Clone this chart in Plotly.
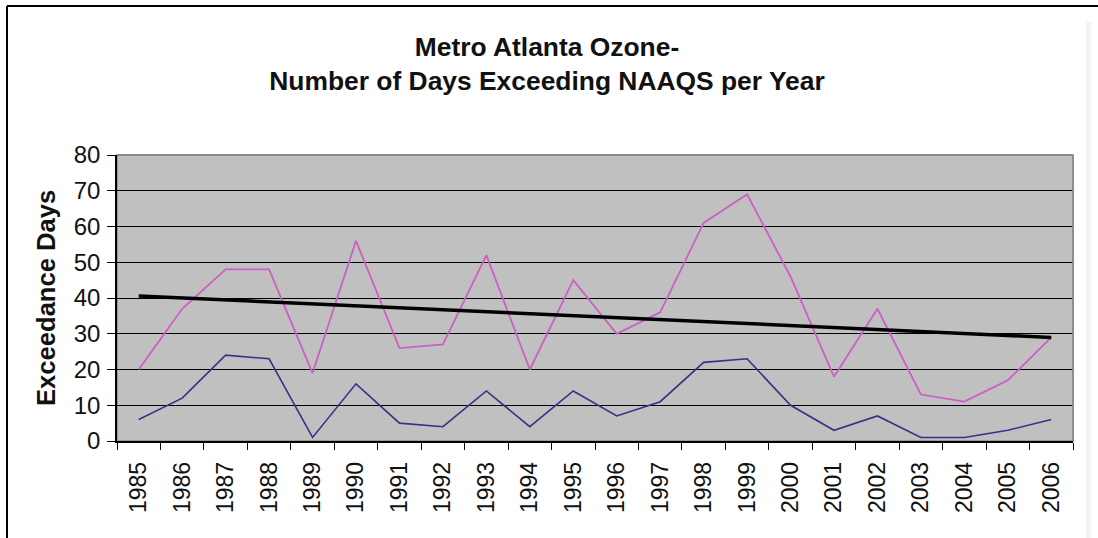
import numpy as np
import plotly.graph_objects as go

years = [str(y) for y in range(1985, 2007)]
days_8hr = [20, 37, 48, 48, 19, 56, 26, 27, 52, 20, 45, 30, 36, 61, 69, 46, 18, 37, 13, 11, 17, 29]
days_1hr = [6, 12, 24, 23, 1, 16, 5, 4, 14, 4, 14, 7, 11, 22, 23, 10, 3, 7, 1, 1, 3, 6]
y_ticks = [0, 10, 20, 30, 40, 50, 60, 70, 80]

# linear trend of the 8-hour exceedance counts
idx = np.arange(len(years))
slope, intercept = np.polyfit(idx, days_8hr, 1)
trend = slope * idx + intercept

W, H = 1098, 538
L, R, T, B = 117, 1073, 155, 441


def px(x):
    return (x - L) / (R - L)


def py(y):
    return (B - y) / (B - T)


fig = go.Figure()
fig.add_trace(go.Scatter(x=years, y=days_8hr, mode="lines",
                         line=dict(color="#CC5FC4", width=1.8), showlegend=False))
fig.add_trace(go.Scatter(x=years, y=days_1hr, mode="lines",
                         line=dict(color="#333388", width=1.6), showlegend=False))
fig.add_trace(go.Scatter(x=years, y=trend, mode="lines",
                         line=dict(color="#000000", width=3.5), showlegend=False))

fig.update_layout(
    width=W, height=H,
    margin=dict(l=L, r=W - R, t=T, b=H - B),
    paper_bgcolor="white",
    plot_bgcolor="#C0C0C0",
    font=dict(family="Liberation Sans, Arial, sans-serif", color="#111111"),
    title=dict(
        text="<b>Metro Atlanta Ozone-<br>Number of Days Exceeding NAAQS per Year</b>",
        x=547 / W, xanchor="center", xref="container",
        y=1 - 56 / H, yanchor="middle", yref="container",
        font=dict(size=26.4, color="#111111"),
    ),
    xaxis=dict(
        type="category", tickson="boundaries", ticks="outside", ticklen=7,
        tickcolor="#000000", tickwidth=1, showgrid=False,
        showline=True, linecolor="#000000", linewidth=1.5,
        tickangle=-90, tickfont=dict(size=23), ticklabelstandoff=10,
        range=[-0.5, len(years) - 0.5],
    ),
    yaxis=dict(
        range=[0, 80], tickvals=y_ticks, ticks="outside", ticklen=8,
        tickcolor="#000000", showgrid=True, gridcolor="#000000", gridwidth=1,
        zeroline=True, zerolinecolor="#000000", zerolinewidth=1.5,
        showline=True, linecolor="#000000", linewidth=1.5,
        tickfont=dict(size=24), ticklabelstandoff=2,
    ),
    annotations=[dict(
        text="<b>Exceedance Days</b>", textangle=-90,
        x=px(46), y=py(298), xref="paper", yref="paper",
        xanchor="center", yanchor="middle", showarrow=False,
        font=dict(size=25.6, color="#111111"),
    )],
    shapes=[
        # plot-area border
        dict(type="rect", xref="paper", yref="paper", x0=0, y0=0, x1=1, y1=1,
             line=dict(color="#8A8A8A", width=1.5), layer="below"),
        dict(type="line", xref="paper", yref="paper", x0=0, y0=1, x1=1, y1=1,
             line=dict(color="#8A8A8A", width=2)),
        dict(type="line", xref="paper", yref="paper", x0=1, y0=0, x1=1, y1=1,
             line=dict(color="#8A8A8A", width=1.5)),
        # outer frame
        dict(type="line", xref="paper", yref="paper", x0=px(7), y0=py(H + 2),
             x1=px(7), y1=py(6), line=dict(color="#000000", width=2)),
        dict(type="line", xref="paper", yref="paper", x0=px(7), y0=py(6),
             x1=px(W + 2), y1=py(6), line=dict(color="#000000", width=2)),
        # side strip at the right edge
        dict(type="rect", xref="paper", yref="paper", x0=px(1086), y0=py(H + 2),
             x1=px(1091), y1=py(22), fillcolor="#F4F4EE", line=dict(width=0)),
    ],
)

fig.write_html("out.html")
